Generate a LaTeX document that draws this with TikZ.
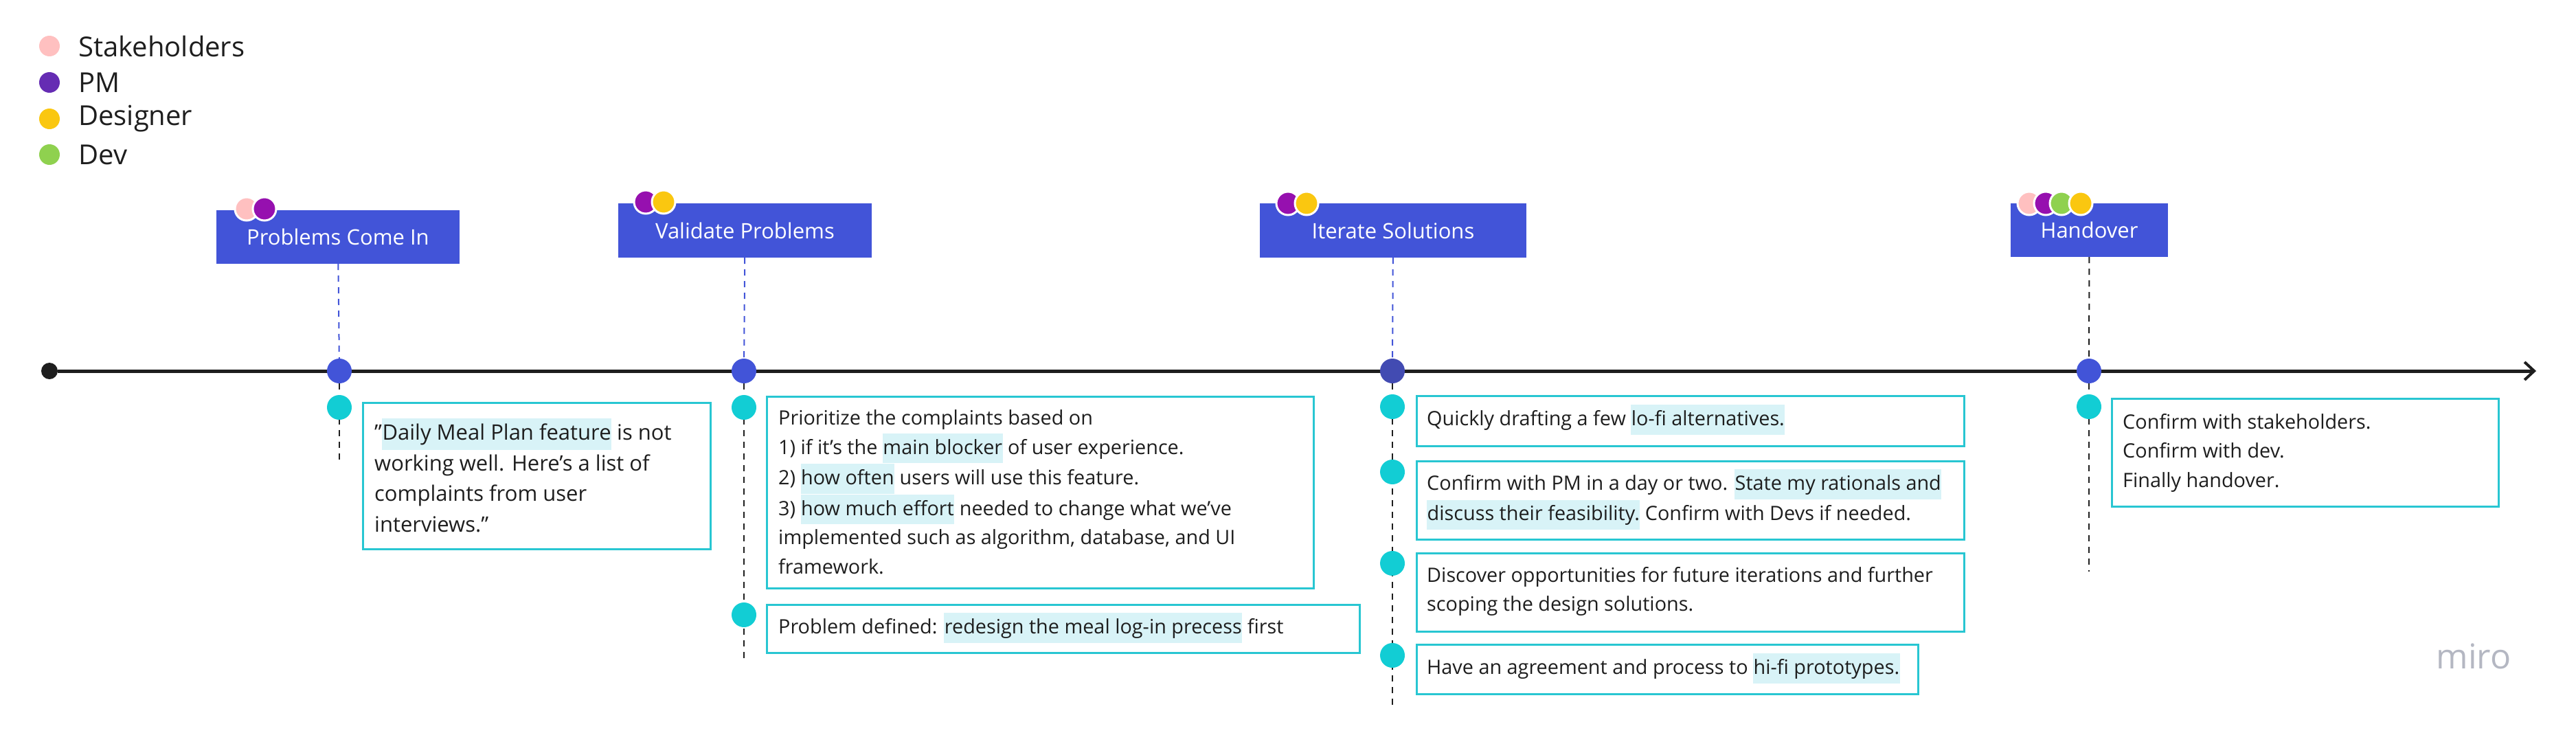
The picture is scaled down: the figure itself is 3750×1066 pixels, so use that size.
\documentclass[tikz,border=0pt]{standalone}
\usepackage{fontspec}
\setmainfont{Open Sans}
\usetikzlibrary{backgrounds,arrows.meta}
\definecolor{hdr}{RGB}{66,84,216}
\definecolor{hdrdot}{RGB}{66,75,178}
\definecolor{cy}{RGB}{18,205,212}
\definecolor{cyb}{RGB}{40,198,210}
\definecolor{hl}{RGB}{216,243,247}
\definecolor{pink}{RGB}{255,192,192}
\definecolor{pm}{RGB}{101,44,179}
\definecolor{pmc}{RGB}{150,16,175}
\definecolor{yel}{RGB}{250,199,16}
\definecolor{grn}{RGB}{143,209,79}
\definecolor{ink}{RGB}{30,30,30}
\newcommand\hlt[1]{{\setlength{\fboxsep}{0.5pt}\colorbox{hl}{\strut #1}}}
\begin{document}
\begin{tikzpicture}[x=1pt,y=-1pt,
  legdot/.style={circle,inner sep=0pt,minimum size=30pt},
  legtxt/.style={anchor=west,font=\fontsize{40}{48}\selectfont,text=ink,inner sep=0pt},
  head/.style={fill=hdr,text=white,inner sep=0pt,font=\fontsize{31}{38}\selectfont},
  role/.style={circle,draw=white,line width=3pt,inner sep=0pt,minimum size=34pt},
  mile/.style={circle,fill=hdr,inner sep=0pt,minimum size=36pt},
  stp/.style={circle,fill=cy,inner sep=0pt,minimum size=36pt},
  box/.style={draw=cyb,line width=3pt,fill=white,inner sep=0pt,align=left,text=ink,anchor=north west},
  txt/.style={anchor=west,align=left,inner sep=0pt,text=ink,font=\fontsize{28.8}{42.5}\selectfont},
  bluedash/.style={draw=hdr,line width=2pt,dash pattern=on 9pt off 8pt},
  darkdash/.style={draw=ink,line width=2pt,dash pattern=on 9pt off 8pt}]
\useasboundingbox (0,0) rectangle (3750,1066);
% legend
\node[legdot,fill=pink] (l1) at (72,67) {};
\node[legdot,fill=pm] (l2) at (72,120) {};
\node[legdot,fill=yel] (l3) at (72,173) {};
\node[legdot,fill=grn] (l4) at (72,225) {};
\node[legtxt] (lt1) at (114,67) {Stakeholders};
\node[legtxt] (lt2) at (114,120) {PM};
\node[legtxt] (lt3) at (114,173) {Designer};
\node[legtxt] (lt4) at (114,225) {Dev};
% timeline
\node[circle,fill=ink,inner sep=0pt,minimum size=24pt] (t0) at (72,540) {};
\coordinate (tend) at (3692,540);
\draw[ink,line width=5pt,-{Straight Barb[length=14pt,width=26pt,line width=4pt]}] (t0) -- (tend);
% headers
\node[head,minimum width=354pt,minimum height=78pt] (h1) at (492,345) {Problems Come In};
\node[head,minimum width=369pt,minimum height=79pt] (h2) at (1084.5,335.5) {Validate Problems};
\node[head,minimum width=388pt,minimum height=79pt] (h3) at (2028,335.5) {Iterate Solutions};
\node[head,minimum width=229pt,minimum height=78pt] (h4) at (3041.5,335) {Handover};
% role dots
\node[role,fill=pink] (r1) at (359,304) {};
\node[role,fill=pmc] (r2) at (385,304) {};
\node[role,fill=pmc] (r3) at (940,294) {};
\node[role,fill=yel] (r4) at (966,294) {};
\node[role,fill=pmc] (r5) at (1875,296) {};
\node[role,fill=yel] (r6) at (1902,296) {};
\node[role,fill=pink] (r7) at (2954,296) {};
\node[role,fill=pmc] (r8) at (2978,296) {};
\node[role,fill=grn] (r9) at (3001,296) {};
\node[role,fill=yel] (r10) at (3029,296) {};
% milestones
\node[mile] (m1) at (494,540) {};
\node[mile] (m2) at (1083,540) {};
\node[mile,fill=hdrdot] (m3) at (2027,540) {};
\node[mile] (m4) at (3041,540) {};
% steps
\node[stp] (s1) at (494,593) {};
\node[stp] (s2) at (1083,593) {};
\node[stp] (s3) at (1083,895) {};
\node[stp] (s4) at (2027,592) {};
\node[stp] (s5) at (2027,687) {};
\node[stp] (s6) at (2027,820) {};
\node[stp] (s7) at (2027,954) {};
\node[stp] (s8) at (3041,592) {};
\coordinate (e1) at (494,673);
\coordinate (e2) at (1083,959);
\coordinate (e3) at (2027,1030);
\coordinate (e4) at (3041,832);
\begin{scope}[on background layer]
\draw[bluedash] (h1) -- (m1);
\draw[bluedash] (h2) -- (m2);
\draw[bluedash] (h3) -- (m3);
\draw[darkdash] (h4) -- (m4);
\draw[darkdash] (m1) -- (e1);
\draw[darkdash] (m2) -- (e2);
\draw[darkdash] (m3) -- (e3);
\draw[darkdash] (m4) -- (e4);
\end{scope}
% boxes
\node[box,minimum width=506pt,minimum height=213pt] (b1) at (527,585) {};
\node[txt,font=\fontsize{31}{44.5}\selectfont] (x1) at (545,692) {{\char34}\hlt{Daily Meal Plan feature} is not\\working well. Here’s a list of\\complaints from user\\interviews.{\char34}};
\node[box,minimum width=796pt,minimum height=279pt] (b2) at (1115,576) {};
\node[txt] (x2) at (1133,716) {Prioritize the complaints based on\\1) if it’s the \hlt{main blocker} of user experience.\\2) \hlt{how often} users will use this feature.\\3) \hlt{how much effort} needed to change what we’ve\\implemented such as algorithm, database, and UI\\framework.};
\node[box,minimum width=863pt,minimum height=70pt] (b3) at (1115,879) {};
\node[txt] (x3) at (1133,914) {Problem defined: \hlt{redesign the meal log-in precess} first};
\node[box,minimum width=797pt,minimum height=73pt] (b4) at (2061,575) {};
\node[txt] (x4) at (2077,611) {Quickly drafting a few \hlt{lo-fi alternatives.}};
\node[box,minimum width=797pt,minimum height=114pt] (b5) at (2061,670) {};
\node[txt] (x5) at (2077,727) {Confirm with PM in a day or two. \hlt{State my rationals and}\\\hlt{discuss their feasibility.} Confirm with Devs if needed.};
\node[box,minimum width=797pt,minimum height=114pt] (b6) at (2061,804) {};
\node[txt] (x6) at (2077,861) {Discover opportunities for future iterations and further\\scoping the design solutions.};
\node[box,minimum width=730pt,minimum height=72pt] (b7) at (2061,937) {};
\node[txt] (x7) at (2077,973) {Have an agreement and process to \hlt{hi-fi prototypes.}};
\node[box,minimum width=563pt,minimum height=157pt] (b8) at (3073,579) {};
\node[txt] (x8) at (3090,659) {Confirm with stakeholders.\\Confirm with dev.\\Finally handover.};
% logo
\node[text={rgb,255:red,180;green,183;blue,194},font=\fontsize{50}{54}\selectfont,inner sep=0pt] (logo) at (3601,955) {miro};
\end{tikzpicture}
\end{document}
